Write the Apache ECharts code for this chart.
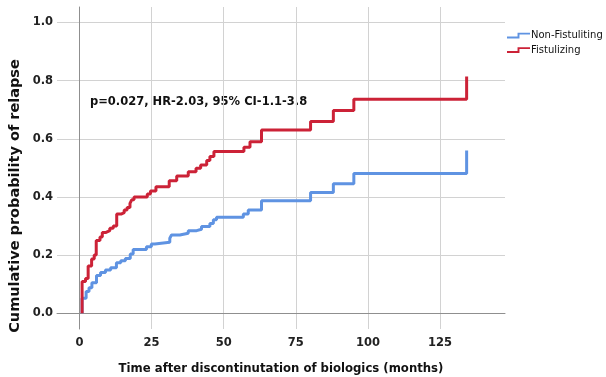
<!DOCTYPE html>
<html>
<head>
<meta charset="utf-8">
<script src="https://cdn.jsdelivr.net/npm/echarts@6/dist/echarts.min.js"></script>
<style>
    html, body { margin: 0; padding: 0; background: #fff; }
    #chart { width: 606px; height: 377px; }
</style>
</head>
<body>
<div id="chart"></div>
<script>
const seriesNames = ["Non-Fistuliting", "Fistulizing"];
const xTicks = [0, 25, 50, 75, 100, 125];
const yTicks = [0, 0.2, 0.4, 0.6, 0.8, 1.0];
const annotation = "p=0.027, HR-2.03, 95% CI-1.1-3.8";

// months / cumulative probability (step changes)
const nonFistTime = [0.9, 0.9, 2.3, 3.3, 4.3, 5.9, 7.3, 9.0, 10.8, 12.8, 14.3, 15.9, 17.6, 18.6, 23.2, 24.9, 26.1, 31.3, 31.9, 34.8, 37.7, 40.6, 42.3, 45.2, 46.4, 47.5, 56.8, 58.5, 63.1, 80.1, 88.0, 95.1, 134.2];
const nonFistProb = [0, 0.052, 0.075, 0.088, 0.105, 0.13, 0.14, 0.149, 0.157, 0.174, 0.181, 0.188, 0.204, 0.219, 0.229, 0.238, 0.244, 0.258, 0.269, 0.275, 0.284, 0.289, 0.298, 0.309, 0.322, 0.33, 0.341, 0.355, 0.387, 0.415, 0.445, 0.481, 0.56];

const fistTime = [0.9, 0.9, 2.1, 3.0, 4.2, 5.1, 5.8, 7.1, 7.9, 9.2, 10.5, 11.7, 12.9, 14.4, 15.5, 16.5, 17.5, 18.1, 18.9, 23.5, 24.6, 26.5, 31.1, 33.7, 37.7, 40.4, 42.0, 44.1, 45.2, 46.6, 57.0, 59.1, 63.1, 80.1, 88.0, 95.1, 134.2];
const fistProb = [0, 0.109, 0.12, 0.163, 0.187, 0.2, 0.25, 0.262, 0.278, 0.284, 0.292, 0.3, 0.341, 0.346, 0.355, 0.364, 0.378, 0.39, 0.4, 0.41, 0.42, 0.435, 0.456, 0.472, 0.487, 0.499, 0.51, 0.525, 0.539, 0.556, 0.571, 0.59, 0.63, 0.659, 0.697, 0.736, 0.814];

const font = "DejaVu Sans";
const chart = echarts.init(document.getElementById("chart"));

function pairs(t, p) {
    return t.map((v, i) => [v, p[i]]);
}

chart.setOption({
    backgroundColor: "#ffffff",
    animation: false,
    color: ["#5f93e2", "#cc2237"],
    grid: {
        left: 57,
        right: 101,
        top: 7,
        bottom: 48,
        outerBoundsMode: "none",
    },
    legend: {
        orient: "vertical",
        left: 507,
        top: 30.5,
        padding: 0,
        itemWidth: 23,
        itemHeight: 6,
        itemGap: 4.5,
        icon: "path://M0,4 L11,4 L11,0 L24,0 L24,2 L13,2 L13,6 L0,6 Z",
        itemStyle: { borderWidth: 0 },
        textStyle: {
            fontFamily: font,
            fontSize: 10,
            color: "#111",
            padding: [0, 0, 0, -4],
        },
        data: seriesNames,
    },
    xAxis: {
        type: "value",
        min: -7.8,
        max: 147.5,
        axisLine: { show: true, lineStyle: { color: "#8f8f8f", width: 1 } },
        axisTick: { show: false, customValues: xTicks },
        axisLabel: {
            customValues: xTicks,
            margin: 8.5,
            fontFamily: font,
            fontWeight: "bold",
            fontSize: 11.5,
            color: "#222",
        },
        splitLine: { show: true, lineStyle: { color: "#d2d2d2", width: 1 } },
        name: "Time after discontinutation of biologics (months)",
        nameLocation: "middle",
        nameGap: 34,
        nameTextStyle: {
            fontFamily: font,
            fontWeight: "bold",
            fontSize: 11.7,
            color: "#111",
        },
    },
    yAxis: {
        type: "value",
        min: -0.054,
        max: 1.053,
        axisLine: { show: true, lineStyle: { color: "#8f8f8f", width: 1 } },
        axisTick: { show: false, customValues: yTicks },
        axisLabel: {
            customValues: yTicks,
            margin: 4,
            fontFamily: font,
            fontWeight: "bold",
            fontSize: 11.5,
            color: "#222",
            formatter: (v) => v.toFixed(1),
        },
        splitLine: { show: true, lineStyle: { color: "#d2d2d2", width: 1 } },
    },
    graphic: [
        {
            type: "text",
            x: 15,
            y: 196,
            rotation: Math.PI / 2,
            style: {
                text: "Cumulative probability of relapse",
                fontFamily: font,
                fontWeight: "bold",
                fontSize: 14.5,
                fill: "#111",
                align: "center",
                verticalAlign: "middle",
            },
        },
        {
            type: "text",
            left: 90,
            top: 96.5,
            style: {
                text: annotation,
                fontFamily: font,
                fontWeight: "bold",
                fontSize: 11.5,
                fill: "#111",
            },
        },
    ],
    series: [
        {
            name: seriesNames[0],
            type: "line",
            step: "end",
            symbol: "none",
            lineStyle: { width: 3 },
            data: pairs(nonFistTime, nonFistProb),
        },
        {
            name: seriesNames[1],
            type: "line",
            step: "end",
            symbol: "none",
            lineStyle: { width: 3 },
            data: pairs(fistTime, fistProb),
        },
    ],
});
</script>
</body>
</html>
